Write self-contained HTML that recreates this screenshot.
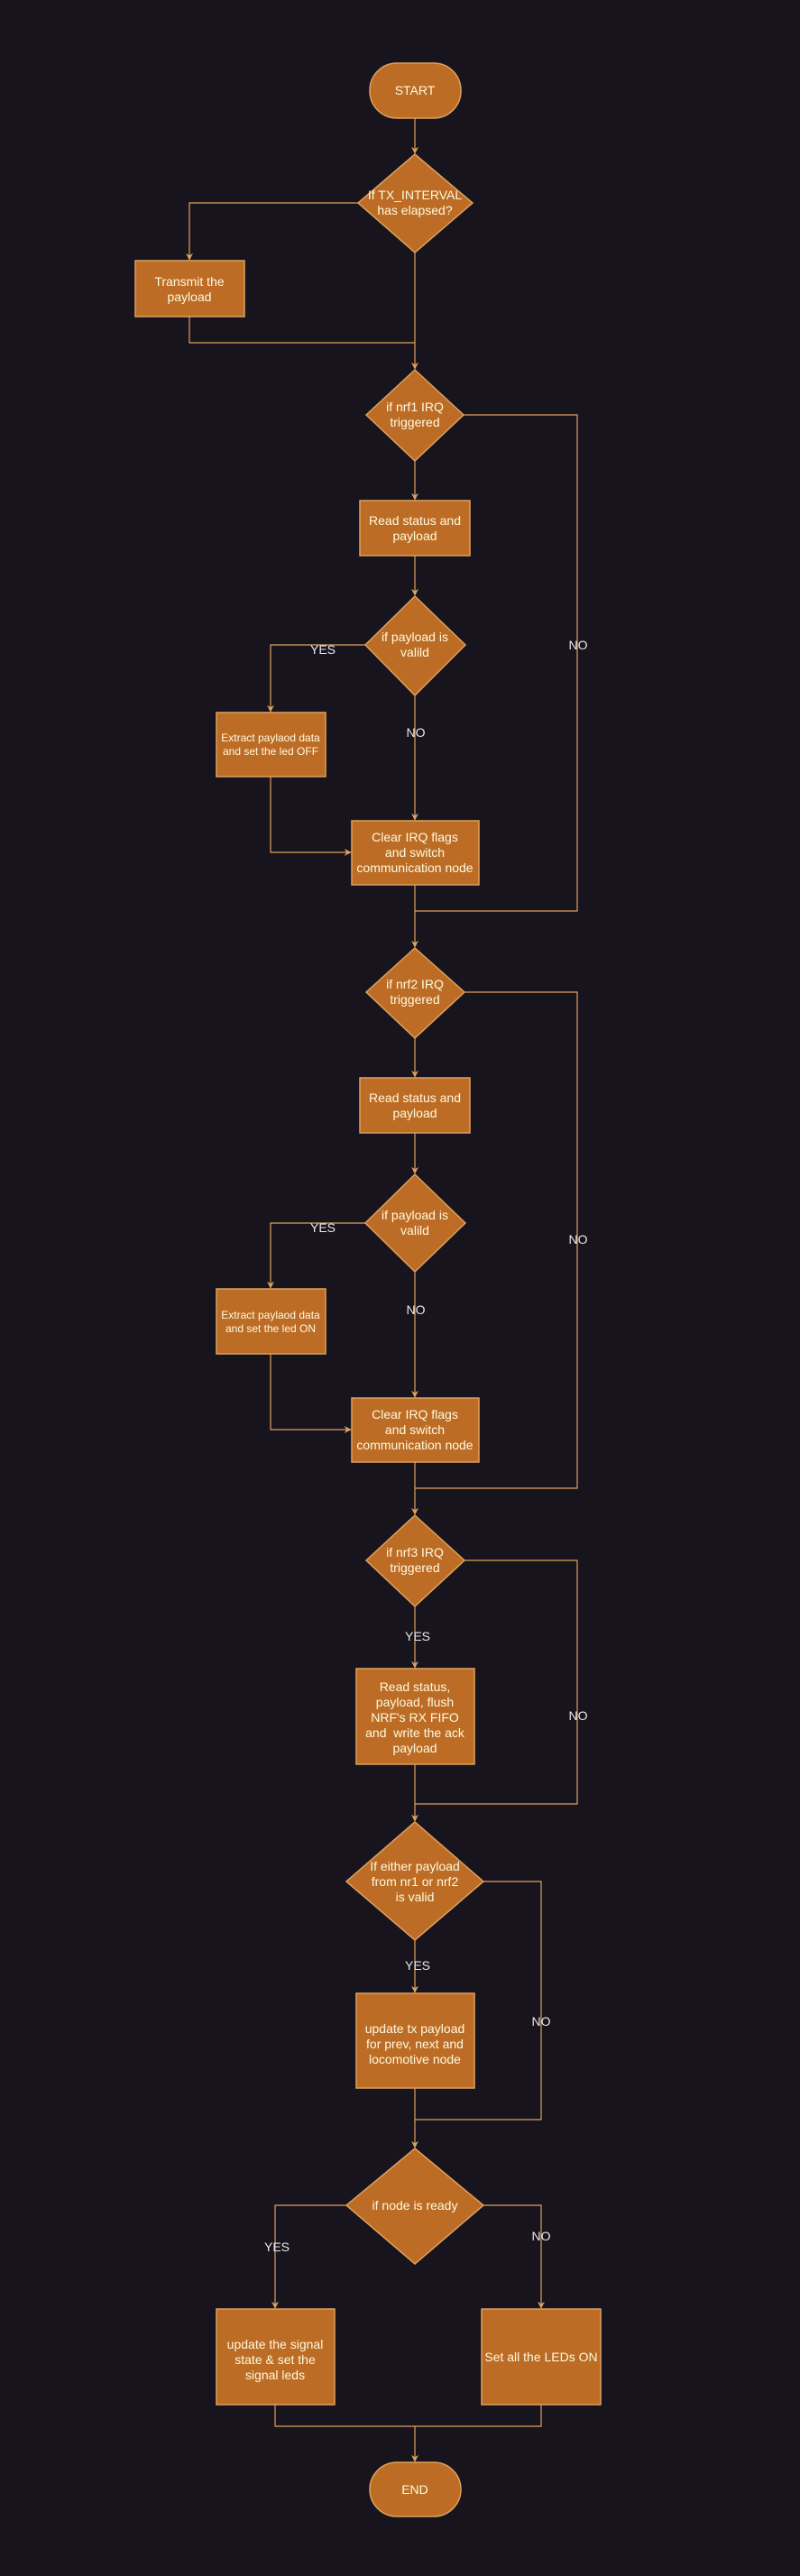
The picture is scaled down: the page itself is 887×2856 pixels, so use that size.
<!DOCTYPE html>
<html><head><meta charset="utf-8"><style>
html,body{margin:0;padding:0;background:#18141d;}
svg{display:block;}
text{font-family:"Liberation Sans",sans-serif;fill:#fefae0;text-anchor:middle;}
.l{fill:#e8e8e8;font-size:14px;}
</style></head><body>
<svg width="887" height="2856" viewBox="0 0 887 2856" xmlns="http://www.w3.org/2000/svg">
<defs>
<marker id="a" viewBox="0 0 10 10" refX="9" refY="5" markerWidth="8" markerHeight="8" orient="auto" markerUnits="userSpaceOnUse">
<path d="M0,0 L10,5 L0,10 L3,5 Z" fill="#dda15e"/>
</marker>
</defs>
<rect width="887" height="2856" fill="#18141d"/>
<g fill="none" stroke="#dda15e" stroke-width="1.2">
<path d="M460,131 V170" marker-end="url(#a)"/>
<path d="M397,225 H210 V288" marker-end="url(#a)"/>
<path d="M210,351 V380 H460"/>
<path d="M460,280 V409" marker-end="url(#a)"/>
<path d="M460,511 V554" marker-end="url(#a)"/>
<path d="M514,460 H640 V1010 H460"/>
<path d="M460,616 V660" marker-end="url(#a)"/>
<path d="M405,715 H300 V789" marker-end="url(#a)"/>
<path d="M460,771 V909" marker-end="url(#a)"/>
<path d="M300,861 V945 H389" marker-end="url(#a)"/>
<path d="M460,981 V1050" marker-end="url(#a)"/>
<path d="M515,1100 H640 V1650 H460"/>
<path d="M460,1151 V1194" marker-end="url(#a)"/>
<path d="M460,1256 V1301" marker-end="url(#a)"/>
<path d="M405,1356 H300 V1428" marker-end="url(#a)"/>
<path d="M460,1410 V1549" marker-end="url(#a)"/>
<path d="M300,1501 V1585 H389" marker-end="url(#a)"/>
<path d="M460,1621 V1679" marker-end="url(#a)"/>
<path d="M515,1730 H640 V2000 H460"/>
<path d="M460,1781 V1849" marker-end="url(#a)"/>
<path d="M460,1956 V2019" marker-end="url(#a)"/>
<path d="M536,2086 H600 V2350 H460"/>
<path d="M460,2151 V2209" marker-end="url(#a)"/>
<path d="M460,2315 V2381" marker-end="url(#a)"/>
<path d="M384,2445 H305 V2559" marker-end="url(#a)"/>
<path d="M536,2445 H600 V2559" marker-end="url(#a)"/>
<path d="M305,2666 V2690 H600 V2666"/>
<path d="M460,2690 V2729" marker-end="url(#a)"/>
</g>
<g fill="#bc6c25" stroke="#dda15e" stroke-width="1.5">
<rect x="410" y="70" width="101" height="61" rx="30"/>
<polygon points="460,171 524,225 460,280 397,225"/>
<rect x="150" y="289" width="121" height="62"/>
<polygon points="460,410 514,460 460,511 406,460"/>
<rect x="399" y="555" width="122" height="61"/>
<polygon points="460,661 516,715 460,771 405,715"/>
<rect x="240" y="790" width="121" height="71"/>
<rect x="390" y="910" width="141" height="71"/>
<polygon points="460,1051 515,1100 460,1151 406,1100"/>
<rect x="399" y="1195" width="122" height="61"/>
<polygon points="460,1302 516,1356 460,1410 405,1356"/>
<rect x="240" y="1429" width="121" height="72"/>
<rect x="390" y="1550" width="141" height="71"/>
<polygon points="460,1680 515,1730 460,1781 406,1730"/>
<rect x="395" y="1850" width="131" height="106"/>
<polygon points="460,2020 536,2086 460,2151 384,2086"/>
<rect x="395" y="2210" width="131" height="105"/>
<polygon points="460,2382 536,2445 460,2510 384,2445"/>
<rect x="240" y="2560" width="131" height="106"/>
<rect x="534" y="2560" width="132" height="106"/>
<rect x="410" y="2730" width="101" height="60" rx="30"/>
</g>
<g font-size="14">
<text x="460" y="105">START</text>
<text x="460" y="221">If TX_INTERVAL</text><text x="460" y="238">has elapsed?</text>
<text x="210" y="317">Transmit the</text><text x="210" y="334">payload</text>
<text x="460" y="456">if nrf1 IRQ</text><text x="460" y="473">triggered</text>
<text x="460" y="582">Read status and</text><text x="460" y="599">payload</text>
<text x="460" y="711">if payload is</text><text x="460" y="728">valild</text>
<text x="460" y="933">Clear IRQ flags</text><text x="460" y="950">and switch</text><text x="460" y="967">communication node</text>
<text x="460" y="1096">if nrf2 IRQ</text><text x="460" y="1113">triggered</text>
<text x="460" y="1222">Read status and</text><text x="460" y="1239">payload</text>
<text x="460" y="1352">if payload is</text><text x="460" y="1369">valild</text>
<text x="460" y="1573">Clear IRQ flags</text><text x="460" y="1590">and switch</text><text x="460" y="1607">communication node</text>
<text x="460" y="1726">if nrf3 IRQ</text><text x="460" y="1743">triggered</text>
<text x="460" y="1875">Read status,</text><text x="460" y="1892">payload, flush</text><text x="460" y="1909">NRF's RX FIFO</text><text x="460" y="1926">and&#160; write the ack</text><text x="460" y="1943">payload</text>
<text x="460" y="2074">If either payload</text><text x="460" y="2091">from nr1 or nrf2</text><text x="460" y="2108">is valid</text>
<text x="460" y="2254">update tx payload</text><text x="460" y="2271">for prev, next and</text><text x="460" y="2288">locomotive node</text>
<text x="460" y="2450">if node is ready</text>
<text x="305" y="2604">update the signal</text><text x="305" y="2621">state &amp; set the</text><text x="305" y="2638">signal leds</text>
<text x="600" y="2618">Set all the LEDs ON</text>
<text x="460" y="2765">END</text>
</g>
<g font-size="12">
<text x="300" y="822">Extract paylaod data</text><text x="300" y="837">and set the led OFF</text>
<text x="300" y="1462">Extract paylaod data</text><text x="300" y="1477">and set the led ON</text>
</g>
<g class="l">
<text class="l" x="358" y="725">YES</text>
<text class="l" x="461" y="817">NO</text>
<text class="l" x="641" y="720">NO</text>
<text class="l" x="358" y="1366">YES</text>
<text class="l" x="461" y="1457">NO</text>
<text class="l" x="641" y="1379">NO</text>
<text class="l" x="463" y="1819">YES</text>
<text class="l" x="641" y="1907">NO</text>
<text class="l" x="463" y="2184">YES</text>
<text class="l" x="600" y="2246">NO</text>
<text class="l" x="307" y="2496">YES</text>
<text class="l" x="600" y="2484">NO</text>
</g>
</svg>
</body></html>
